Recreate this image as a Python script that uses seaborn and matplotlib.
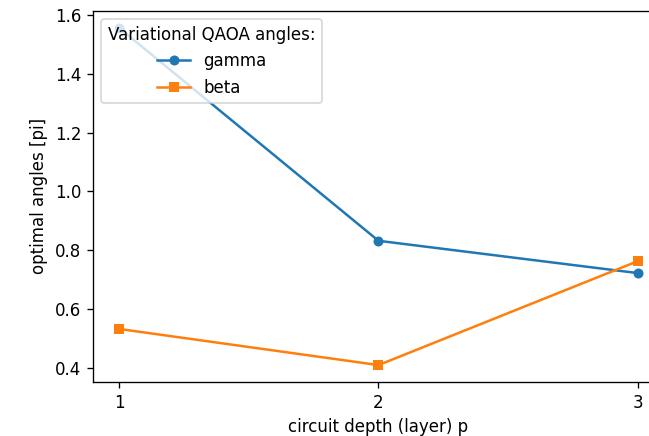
import matplotlib
matplotlib.use("Agg")
import matplotlib.pyplot as plt
import seaborn as sns

depth = [1, 2, 3]
gamma = [1.557, 0.832, 0.722]
beta = [0.532, 0.409, 0.763]
xticks = [1, 2, 3]

DPI = 120
fig, ax = plt.subplots(figsize=(649 / DPI, 436 / DPI), dpi=DPI)
fig.subplots_adjust(left=0.1433, right=1.023, bottom=0.124, top=0.975)

sns.lineplot(x=depth, y=gamma, marker="o", markersize=6, markeredgewidth=0,
             color="#1f77b4", label="gamma", ax=ax)
sns.lineplot(x=depth, y=beta, marker="s", markersize=6, markeredgewidth=0,
             color="#ff7f0e", label="beta", ax=ax)

ax.set_xticks(xticks)
ax.set_xlabel("circuit depth (layer) p")
ax.set_ylabel("optimal angles [pi]")
ax.legend(title="Variational QAOA angles:", loc="upper left")

fig.savefig("out.png", dpi=DPI)
